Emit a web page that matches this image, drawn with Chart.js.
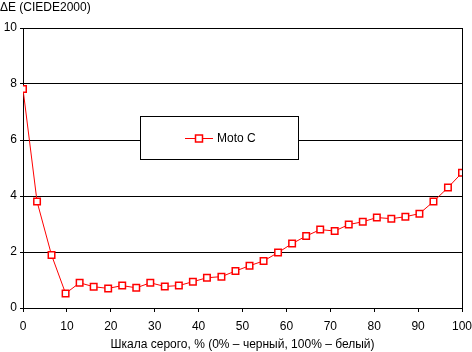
<!DOCTYPE html>
<html>
<head>
<meta charset="utf-8">
<script src="https://cdn.jsdelivr.net/npm/chart.js@4"></script>
<style>
    body { margin: 0; background: #fff; }
    canvas { display: block; }
</style>
</head>
<body>
<canvas id="chart" width="472" height="352"></canvas>
<script>
// Gray level, % and measured deltaE for Moto C
const grayLevels = [0, 3.2, 6.5, 9.7, 12.9, 16.1, 19.4, 22.6, 25.8, 29, 32.3, 35.5, 38.7, 41.9, 45.2, 48.4,
    51.6, 54.8, 58.1, 61.3, 64.5, 67.7, 71, 74.2, 77.4, 80.6, 83.9, 87.1, 90.3, 93.5, 96.8, 100];
const deltaE = [7.82, 3.8, 1.89, 0.52, 0.9, 0.76, 0.7, 0.8, 0.72, 0.9, 0.77, 0.8, 0.94, 1.08, 1.12, 1.32,
    1.51, 1.68, 1.98, 2.3, 2.57, 2.8, 2.75, 2.98, 3.08, 3.23, 3.19, 3.26, 3.37, 3.8, 4.3, 4.83];
const seriesName = 'Moto C';
const yTitle = 'ΔE (CIEDE2000)';
const xTitle = 'Шкала серого, % (0% – черный, 100% – белый)';

const font = { family: 'Liberation Sans, Arial, sans-serif', size: 12, weight: 'normal' };

// right border + boxed legend inside the plot
const framePlugin = {
    id: 'frame',
    afterDatasetsDraw(chart) {
        const ctx = chart.ctx;
        const area = chart.chartArea;
        ctx.save();
        ctx.strokeStyle = '#000';
        ctx.lineWidth = 1;
        ctx.beginPath();
        ctx.moveTo(Math.round(area.right) + 0.5, area.top);
        ctx.lineTo(Math.round(area.right) + 0.5, area.bottom + 4);
        ctx.stroke();

        // legend box
        ctx.fillStyle = '#fff';
        ctx.fillRect(140.5, 116.5, 158, 43);
        ctx.strokeRect(140.5, 116.5, 158, 43);
        ctx.strokeStyle = '#ff0000';
        ctx.beginPath();
        ctx.moveTo(185, 138.5);
        ctx.lineTo(213, 138.5);
        ctx.stroke();
        ctx.lineWidth = 1.5;
        ctx.fillRect(195.5, 135, 7, 7);
        ctx.strokeRect(195.5, 135, 7, 7);
        ctx.fillStyle = '#000';
        ctx.font = '12px ' + font.family;
        ctx.textBaseline = 'middle';
        ctx.fillText(seriesName, 217, 139);
        ctx.restore();
    }
};

new Chart(document.getElementById('chart'), {
    type: 'line',
    data: {
        datasets: [{
            label: seriesName,
            data: grayLevels.map((x, i) => ({ x: x, y: deltaE[i] })),
            borderColor: '#ff0000',
            borderWidth: 1,
            pointStyle: 'rect',
            pointRadius: 4.6,
            pointBorderWidth: 1.5,
            pointBackgroundColor: '#fff',
            pointBorderColor: '#ff0000',
            tension: 0
        }]
    },
    options: {
        responsive: false,
        animation: false,
        layout: { padding: { top: 0, right: 10, bottom: 0, left: 0 } },
        plugins: {
            legend: { display: false },
            tooltip: { enabled: false },
            title: {
                display: true,
                text: yTitle,
                align: 'start',
                color: '#000',
                font: font,
                padding: { top: 0, bottom: 13.6 }
            }
        },
        scales: {
            x: {
                type: 'linear',
                min: 0,
                max: 100,
                ticks: { stepSize: 10, color: '#000', font: font, padding: 7, maxRotation: 0 },
                grid: { drawOnChartArea: false, drawTicks: true, tickLength: 4, color: '#000' },
                border: { color: '#000' },
                title: { display: true, text: xTitle, color: '#000', font: font, padding: { top: 4, bottom: 0 } },
                afterFit(scale) {
                    scale.height = 44;
                    scale.paddingLeft = 0;
                    scale.paddingRight = 0;
                }
            },
            y: {
                min: 0,
                max: 10,
                ticks: { stepSize: 2, color: '#000', font: font, padding: 3 },
                grid: { color: '#000', tickLength: 3 },
                border: { color: '#000' },
                afterFit(scale) { scale.width = 23; }
            }
        }
    },
    plugins: [framePlugin]
});
</script>
</body>
</html>
